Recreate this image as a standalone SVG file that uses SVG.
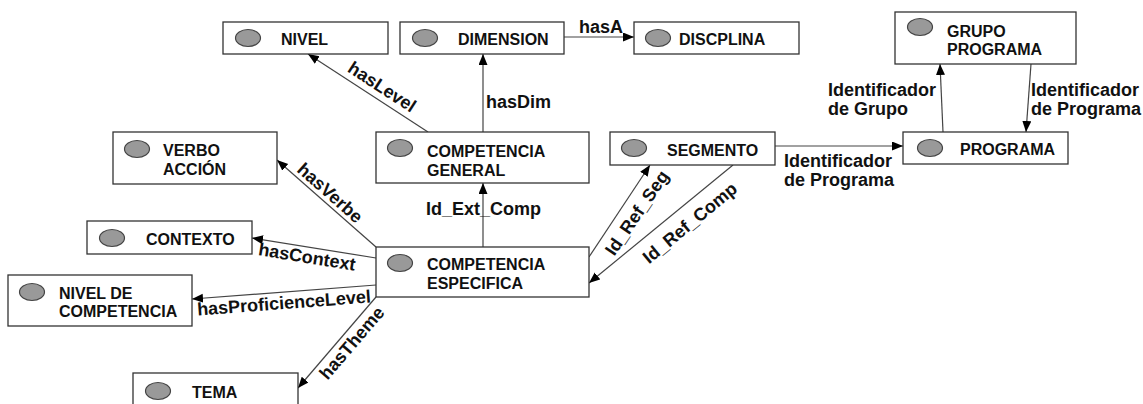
<svg xmlns="http://www.w3.org/2000/svg" width="1143" height="404" viewBox="0 0 1143 404">
  <style>
    .box { fill: #ffffff; stroke: #333333; stroke-width: 1.3; }
    .dot { fill: #999999; stroke: #444444; stroke-width: 1.2; }
    .name { font-family: "Liberation Sans", Arial, sans-serif; font-weight: bold; font-size: 16px; fill: #111111; }
    .edge { fill: none; stroke: #444444; stroke-width: 1.2; }
    .lbl { font-family: "Liberation Sans", Arial, sans-serif; font-weight: bold; font-size: 18px; fill: #111111; }
  </style>
  <defs>
    <marker id="arrow" markerUnits="userSpaceOnUse" markerWidth="12" markerHeight="10" refX="11" refY="4.5" orient="auto">
      <path d="M0,0 L11,4.5 L0,9 z" fill="#000000"/>
    </marker>
  </defs>

  <!-- connectors -->
  <g id="connectors">
    <line class="edge" x1="564" y1="37" x2="634" y2="37" marker-end="url(#arrow)"/>
    <line class="edge" x1="483" y1="132" x2="483" y2="54" marker-end="url(#arrow)"/>
    <line class="edge" x1="428" y1="132" x2="308" y2="54" marker-end="url(#arrow)"/>
    <line class="edge" x1="483" y1="247" x2="483" y2="183" marker-end="url(#arrow)"/>
    <line class="edge" x1="376" y1="247" x2="277" y2="160" marker-end="url(#arrow)"/>
    <line class="edge" x1="376" y1="258" x2="252" y2="238" marker-end="url(#arrow)"/>
    <line class="edge" x1="376" y1="285" x2="192" y2="299" marker-end="url(#arrow)"/>
    <line class="edge" x1="376" y1="297" x2="298" y2="388" marker-end="url(#arrow)"/>
    <line class="edge" x1="589" y1="257" x2="650" y2="165" marker-end="url(#arrow)"/>
    <line class="edge" x1="733" y1="165" x2="589" y2="283" marker-end="url(#arrow)"/>
    <line class="edge" x1="775" y1="146" x2="903" y2="146" marker-end="url(#arrow)"/>
    <line class="edge" x1="943" y1="132" x2="940" y2="64" marker-end="url(#arrow)"/>
    <line class="edge" x1="1031" y1="64" x2="1026" y2="132" marker-end="url(#arrow)"/>

    <text class="lbl" x="579" y="33">hasA</text>
    <text class="lbl" x="486" y="108">hasDim</text>
    <text class="lbl" x="426" y="215">Id_Ext_Comp</text>
    <text class="lbl" transform="translate(382,87) rotate(33)" text-anchor="middle" y="6">hasLevel</text>
    <text class="lbl" transform="translate(330,193) rotate(41.6)" text-anchor="middle" y="6">hasVerbe</text>
    <text class="lbl" transform="translate(307,257) rotate(9.2)" text-anchor="middle" y="6">hasContext</text>
    <text class="lbl" transform="translate(284,303) rotate(-4.3)" text-anchor="middle" y="6">hasProficienceLevel</text>
    <text class="lbl" transform="translate(352,343) rotate(-49.4)" text-anchor="middle" y="6">hasTheme</text>
    <text class="lbl" transform="translate(637,213) rotate(-55.7)" text-anchor="middle" y="6">Id_Ref_Seg</text>
    <text class="lbl" transform="translate(690,223) rotate(-39.5)" text-anchor="middle" y="6">Id_Ref_Comp</text>
    <text class="lbl" x="784" y="167">Identificador</text>
    <text class="lbl" x="784" y="186">de Programa</text>
    <text class="lbl" x="828" y="96">Identificador</text>
    <text class="lbl" x="828" y="115">de Grupo</text>
    <text class="lbl" x="1031" y="96">Identificador</text>
    <text class="lbl" x="1031" y="115">de Programa</text>
  </g>

  <!-- nodes -->
  <g id="nivel">
    <rect class="box" x="223" y="22" width="165" height="32"/>
    <ellipse class="dot" cx="248" cy="38" rx="12.5" ry="8.5"/>
    <text class="name" x="281" y="45">NIVEL</text>
  </g>
  <g id="dimension">
    <rect class="box" x="400" y="22" width="164" height="32"/>
    <ellipse class="dot" cx="425" cy="38" rx="12.5" ry="8.5"/>
    <text class="name" x="458" y="45">DIMENSION</text>
  </g>
  <g id="discplina">
    <rect class="box" x="634" y="22" width="165" height="32"/>
    <ellipse class="dot" cx="658" cy="38" rx="12.5" ry="8.5"/>
    <text class="name" x="679" y="45">DISCPLINA</text>
  </g>
  <g id="grupo-programa">
    <rect class="box" x="895" y="12" width="181" height="52"/>
    <ellipse class="dot" cx="920" cy="27" rx="12.5" ry="8.5"/>
    <text class="name" x="947" y="37">GRUPO</text>
    <text class="name" x="947" y="55">PROGRAMA</text>
  </g>
  <g id="verbo-accion">
    <rect class="box" x="113" y="132" width="164" height="52"/>
    <ellipse class="dot" cx="137" cy="149" rx="12.5" ry="8.5"/>
    <text class="name" x="163" y="156">VERBO</text>
    <text class="name" x="163" y="175">ACCIÓN</text>
  </g>
  <g id="competencia-general">
    <rect class="box" x="376" y="132" width="213" height="51"/>
    <ellipse class="dot" cx="400" cy="148" rx="12.5" ry="8.5"/>
    <text class="name" x="427" y="157">COMPETENCIA</text>
    <text class="name" x="427" y="176">GENERAL</text>
  </g>
  <g id="segmento">
    <rect class="box" x="610" y="132" width="165" height="33"/>
    <ellipse class="dot" cx="634" cy="148" rx="12.5" ry="8.5"/>
    <text class="name" x="667" y="156">SEGMENTO</text>
  </g>
  <g id="programa">
    <rect class="box" x="903" y="132" width="165" height="32"/>
    <ellipse class="dot" cx="930" cy="148" rx="12.5" ry="8.5"/>
    <text class="name" x="960" y="155">PROGRAMA</text>
  </g>
  <g id="competencia-especifica">
    <rect class="box" x="376" y="247" width="213" height="50"/>
    <ellipse class="dot" cx="400" cy="263" rx="12.5" ry="8.5"/>
    <text class="name" x="427" y="270">COMPETENCIA</text>
    <text class="name" x="427" y="289">ESPECIFICA</text>
  </g>
  <g id="contexto">
    <rect class="box" x="87" y="221" width="165" height="33"/>
    <ellipse class="dot" cx="112" cy="238" rx="12.5" ry="8.5"/>
    <text class="name" x="146" y="245">CONTEXTO</text>
  </g>
  <g id="nivel-de-competencia">
    <rect class="box" x="8" y="275" width="184" height="51"/>
    <ellipse class="dot" cx="32" cy="292" rx="12.5" ry="8.5"/>
    <text class="name" x="59" y="299">NIVEL DE</text>
    <text class="name" x="59" y="317">COMPETENCIA</text>
  </g>
  <g id="tema">
    <rect class="box" x="133" y="373" width="165" height="40"/>
    <ellipse class="dot" cx="158" cy="391" rx="12.5" ry="8.5"/>
    <text class="name" x="192" y="398">TEMA</text>
  </g>
</svg>
